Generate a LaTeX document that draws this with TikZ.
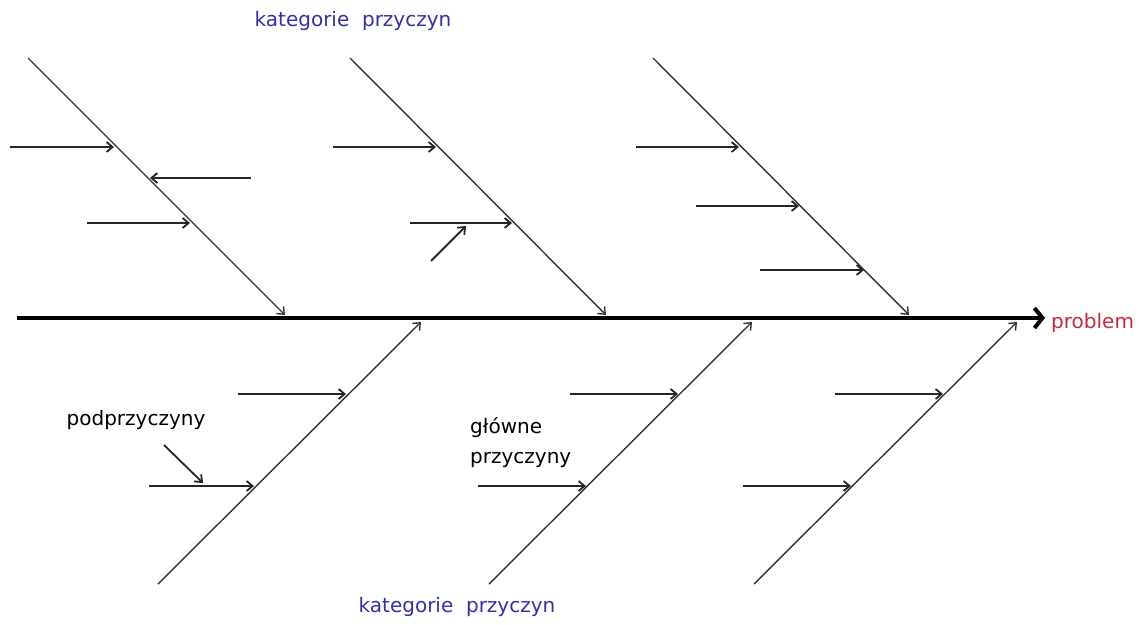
\documentclass[tikz,border=0pt]{standalone}
\usepackage{fontspec}
\setmainfont{DejaVu Sans}
\usetikzlibrary{arrows.meta}
\definecolor{katblue}{RGB}{50,50,160}
\definecolor{probred}{RGB}{190,45,60}
\begin{document}
\begin{tikzpicture}[x=1pt,y=-1pt,
  bone/.style={line width=1.4pt, draw=black!80, -{Straight Barb[length=6pt,width=10pt]}},
  sub/.style={line width=1.8pt, draw=black!85, -{Straight Barb[length=6pt,width=10pt]}},
  spine/.style={line width=4pt, -{Straight Barb[length=8pt,width=20pt]}},
  lbl/.style={inner sep=0pt, font=\fontsize{20}{30}\selectfont},
  cat/.style={lbl, text=katblue},
]
\useasboundingbox (0,0) rectangle (1139,624);
% spine
\coordinate (S0) at (17,318);
\coordinate (S1) at (1045,318);
\draw[spine] (S0) -- (S1);
\node[lbl, text=probred, anchor=west] (prob) at (1051,323) {problem};
% top bones
\coordinate (T1s) at (28,58);  \coordinate (T1e) at (285,315);
\coordinate (T2s) at (350,58); \coordinate (T2e) at (606,315);
\coordinate (T3s) at (653,58); \coordinate (T3e) at (909,315);
\draw[bone] (T1s) -- (T1e);
\draw[bone] (T2s) -- (T2e);
\draw[bone] (T3s) -- (T3e);
% bottom bones
\coordinate (B1s) at (158,584); \coordinate (B1e) at (421,322);
\coordinate (B2s) at (489,584); \coordinate (B2e) at (752,322);
\coordinate (B3s) at (754,584); \coordinate (B3e) at (1017,322);
\draw[bone] (B1s) -- (B1e);
\draw[bone] (B2s) -- (B2e);
\draw[bone] (B3s) -- (B3e);
% sub-causes, bone 1
\coordinate (a1s) at (10,147);  \coordinate (a1e) at (114,147);
\coordinate (a2s) at (251,178); \coordinate (a2e) at (150,178);
\coordinate (a3s) at (87,223);  \coordinate (a3e) at (190,223);
\draw[sub] (a1s) -- (a1e);
\draw[sub] (a2s) -- (a2e);
\draw[sub] (a3s) -- (a3e);
% bone 2
\coordinate (b1s) at (333,147); \coordinate (b1e) at (436,147);
\coordinate (b2s) at (410,223); \coordinate (b2e) at (512,223);
\coordinate (b3s) at (431,261); \coordinate (b3e) at (466,226);
\draw[sub] (b1s) -- (b1e);
\draw[sub] (b2s) -- (b2e);
\draw[sub] (b3s) -- (b3e);
% bone 3
\coordinate (c1s) at (636,147); \coordinate (c1e) at (739,147);
\coordinate (c2s) at (696,206); \coordinate (c2e) at (799,206);
\coordinate (c3s) at (760,270); \coordinate (c3e) at (864,270);
\draw[sub] (c1s) -- (c1e);
\draw[sub] (c2s) -- (c2e);
\draw[sub] (c3s) -- (c3e);
% bone 4
\coordinate (d1s) at (238,394); \coordinate (d1e) at (346,394);
\coordinate (d2s) at (149,486); \coordinate (d2e) at (254,486);
\coordinate (d3s) at (164,445); \coordinate (d3e) at (203,483);
\draw[sub] (d1s) -- (d1e);
\draw[sub] (d2s) -- (d2e);
\draw[sub] (d3s) -- (d3e);
% bone 5
\coordinate (e1s) at (570,394); \coordinate (e1e) at (678,394);
\coordinate (e2s) at (478,486); \coordinate (e2e) at (586,486);
\draw[sub] (e1s) -- (e1e);
\draw[sub] (e2s) -- (e2e);
% bone 6
\coordinate (f1s) at (835,394); \coordinate (f1e) at (943,394);
\coordinate (f2s) at (743,486); \coordinate (f2e) at (851,486);
\draw[sub] (f1s) -- (f1e);
\draw[sub] (f2s) -- (f2e);
% labels
\node[cat] (ktop) at (353,21) {kategorie\ \ przyczyn};
\node[cat] (kbot) at (457,607) {kategorie\ \ przyczyn};
\node[lbl] (podp) at (136,420) {podprzyczyny};
\node[lbl, anchor=west, align=left] (glow) at (470,443) {główne\\przyczyny};
\end{tikzpicture}
\end{document}
